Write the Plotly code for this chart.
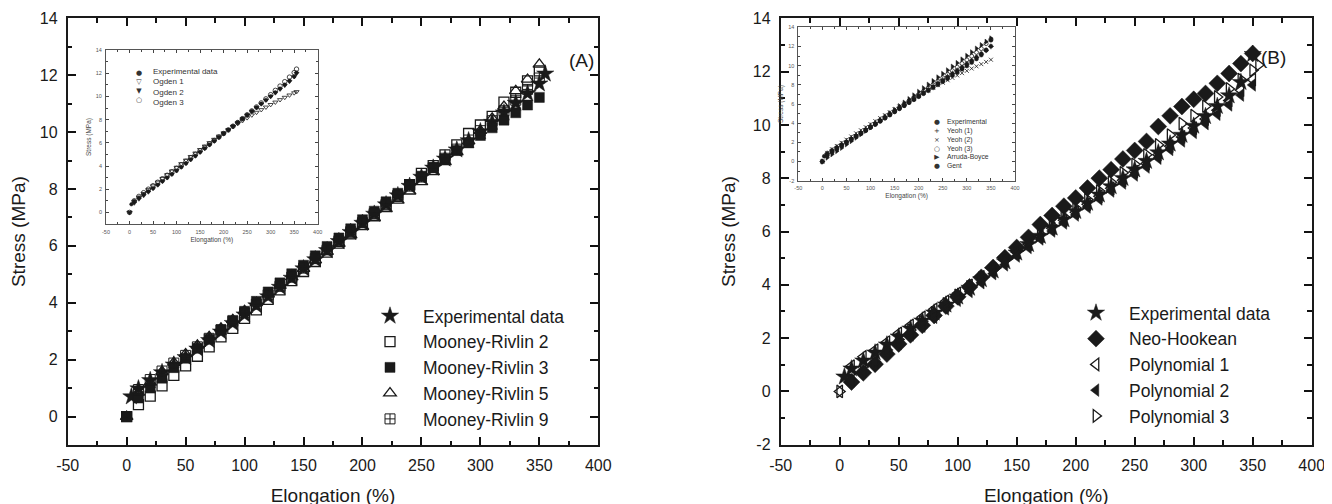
import plotly.graph_objects as go

# ---------------- DATA ----------------
EXP_A_X = [4, 10, 20, 30, 40, 50, 60, 70, 80, 90, 100, 110, 120, 130, 140, 150, 160, 170, 180, 190,
           200, 210, 220, 230, 240, 250, 260, 270, 280, 290, 300, 310, 320, 330, 340, 350, 355]
EXP_A_Y = [0.70, 0.98, 1.27, 1.55, 1.82, 2.08, 2.38, 2.68, 2.98, 3.28, 3.58, 3.90, 4.22, 4.55, 4.87,
           5.20, 5.52, 5.84, 6.16, 6.48, 6.80, 7.12, 7.45, 7.77, 8.10, 8.42, 8.74, 9.06, 9.38, 9.70,
           10.02, 10.35, 10.68, 11.02, 11.36, 11.70, 12.05]
MODEL_X = [0, 10, 20, 30, 40, 50, 60, 70, 80, 90, 100, 110, 120, 130, 140, 150, 160, 170, 180, 190,
           200, 210, 220, 230, 240, 250, 260, 270, 280, 290, 300, 310, 320, 330, 340, 350]
MR2_Y = [0, 0.42, 0.72, 1.08, 1.45, 1.78, 2.12, 2.45, 2.80, 3.10, 3.45, 3.75, 4.12, 4.45, 4.78, 5.10,
         5.45, 5.78, 6.10, 6.42, 6.75, 7.08, 7.40, 7.74, 8.15, 8.55, 8.82, 9.20, 9.55, 9.95, 10.25,
         10.55, 11.05, 11.40, 11.80, 12.15]
MR3_Y = [0, 0.65, 1.00, 1.35, 1.72, 2.05, 2.40, 2.72, 3.05, 3.38, 3.70, 4.05, 4.38, 4.70, 5.02, 5.32,
         5.65, 5.98, 6.28, 6.60, 6.92, 7.22, 7.55, 7.85, 8.15, 8.45, 8.75, 9.05, 9.35, 9.62, 9.88,
         10.15, 10.42, 10.68, 10.95, 11.22]
MR5_Y = [0, 0.85, 1.20, 1.58, 1.90, 2.20, 2.50, 2.80, 3.10, 3.40, 3.72, 4.00, 4.30, 4.60, 4.90, 5.20,
         5.50, 5.80, 6.08, 6.38, 6.68, 6.98, 7.30, 7.60, 7.92, 8.25, 8.60, 8.95, 9.30, 9.68, 10.05,
         10.48, 10.90, 11.45, 11.85, 12.38]
MR9_Y = [0, 0.95, 1.30, 1.60, 1.88, 2.15, 2.45, 2.75, 3.05, 3.35, 3.65, 3.95, 4.28, 4.58, 4.90, 5.22,
         5.55, 5.86, 6.18, 6.50, 6.82, 7.14, 7.46, 7.78, 8.10, 8.42, 8.75, 9.08, 9.40, 9.72, 10.05,
         10.40, 10.75, 11.12, 11.50, 11.90]

EXP_B_X = EXP_A_X[:-1]
EXP_B_Y = [0.55, 0.85, 1.15, 1.45, 1.75, 2.05, 2.35, 2.65, 2.95, 3.25, 3.55, 3.88, 4.20, 4.53, 4.87,
           5.20, 5.52, 5.83, 6.14, 6.45, 6.76, 7.07, 7.38, 7.69, 8.00, 8.32, 8.64, 8.96, 9.29, 9.62,
           9.96, 10.32, 10.70, 11.10, 11.60, 12.65]
NEO_X = MODEL_X[1:]
NEO_Y = [0.35, 0.70, 1.02, 1.40, 1.78, 2.12, 2.48, 2.85, 3.20, 3.55, 3.92, 4.28, 4.65, 5.02, 5.40,
         5.78, 6.26, 6.60, 6.95, 7.26, 7.63, 8.00, 8.32, 8.72, 9.04, 9.38, 9.94, 10.34, 10.69, 10.96,
         11.18, 11.56, 11.93, 12.30, 12.68]
POLY1_Y = [0, 0.95, 1.30, 1.55, 1.85, 2.18, 2.48, 2.78, 3.08, 3.38, 3.68, 3.98, 4.30, 4.60, 4.92,
           5.22, 5.52, 5.82, 6.12, 6.42, 6.72, 7.02, 7.32, 7.62, 7.92, 8.25, 8.55, 8.88, 9.20, 9.55,
           9.88, 10.22, 10.55, 10.92, 11.30, 11.70]
POLY2_X = MODEL_X[1:]
POLY2_Y = [0.40, 0.75, 1.10, 1.45, 1.80, 2.12, 2.45, 2.78, 3.10, 3.42, 3.75, 4.08, 4.42, 4.75, 5.08,
           5.40, 5.72, 6.02, 6.32, 6.62, 6.92, 7.22, 7.52, 7.82, 8.12, 8.42, 8.75, 9.08, 9.40, 9.72,
           10.05, 10.40, 10.75, 11.12, 11.50]
POLY3_X = MODEL_X + [355]
POLY3_Y = [0, 0.70, 0.95, 1.10, 1.55, 1.95, 2.30, 2.62, 2.95, 3.28, 3.60, 3.92, 4.25, 4.58, 4.92,
           5.25, 5.58, 5.90, 6.22, 6.55, 6.88, 7.20, 7.52, 7.85, 8.20, 8.52, 8.88, 9.25, 9.62, 10.05,
           10.35, 10.70, 11.05, 11.35, 11.70, 12.05, 12.25]

INSET_A_X = MODEL_X + [355]
OGDEN1_Y = [0, 0.92, 1.30, 1.62, 1.95, 2.28, 2.60, 2.92, 3.24, 3.56, 3.88, 4.19, 4.50, 4.81, 5.11,
            5.41, 5.71, 6.00, 6.29, 6.57, 6.85, 7.12, 7.39, 7.65, 7.90, 8.15, 8.39, 8.62, 8.85, 9.07,
            9.29, 9.50, 9.71, 9.91, 10.11, 10.30, 10.40]
OGDEN2_Y = [0, 0.80, 1.15, 1.45, 1.75, 2.05, 2.36, 2.67, 2.98, 3.29, 3.60, 3.91, 4.22, 4.54, 4.86,
            5.18, 5.50, 5.82, 6.14, 6.46, 6.78, 7.10, 7.42, 7.74, 8.06, 8.38, 8.70, 9.02, 9.34, 9.66,
            9.98, 10.30, 10.62, 10.95, 11.28, 11.70, 11.98]
OGDEN3_Y = [0, 1.00, 1.38, 1.70, 2.00, 2.30, 2.60, 2.90, 3.20, 3.50, 3.80, 4.10, 4.40, 4.70, 5.00,
            5.30, 5.60, 5.90, 6.20, 6.50, 6.80, 7.11, 7.43, 7.75, 8.08, 8.41, 8.75, 9.09, 9.44, 9.79,
            10.15, 10.52, 10.89, 11.27, 11.66, 12.05, 12.35]
INSET_A_NAMES = ["Experimental data", "Ogden 1", "Ogden 2", "Ogden 3"]
INSET_A_KEYS = ["\u25CF", "\u25BD", "\u25BC", "\u25CB"]

INSET_B_X = MODEL_X
YEOH1_Y = [0, 0.85, 1.20, 1.52, 1.84, 2.15, 2.47, 2.79, 3.11, 3.43, 3.75, 4.07, 4.39, 4.71, 5.03,
           5.35, 5.67, 5.99, 6.31, 6.63, 6.95, 7.27, 7.59, 7.91, 8.23, 8.55, 8.87, 9.19, 9.51, 9.83,
           10.15, 10.50, 10.85, 11.20, 11.60, 12.00]
YEOH2_Y = [0, 0.90, 1.28, 1.62, 1.95, 2.28, 2.61, 2.94, 3.26, 3.58, 3.90, 4.21, 4.52, 4.83, 5.13,
           5.43, 5.73, 6.02, 6.31, 6.60, 6.88, 7.16, 7.43, 7.70, 7.96, 8.22, 8.48, 8.73, 8.98, 9.22,
           9.46, 9.70, 9.93, 10.16, 10.39, 10.62]
YEOH3_Y = [0, 0.70, 1.05, 1.38, 1.70, 2.02, 2.34, 2.66, 2.98, 3.30, 3.62, 3.94, 4.27, 4.60, 4.93,
           5.26, 5.60, 5.94, 6.28, 6.62, 6.97, 7.32, 7.67, 8.02, 8.38, 8.74, 9.10, 9.47, 9.84, 10.22,
           10.60, 10.99, 11.38, 11.78, 12.30, 12.75]
ARRUDA_Y = [0, 0.40, 0.75, 1.08, 1.42, 1.78, 2.12, 2.48, 2.84, 3.20, 3.56, 3.92, 4.28, 4.65, 5.02,
            5.40, 5.78, 6.15, 6.52, 6.90, 7.28, 7.65, 8.02, 8.40, 8.78, 9.15, 9.52, 9.90, 10.28,
            10.65, 11.02, 11.40, 11.78, 12.15, 12.50, 12.85]
GENT_Y = [0, 0.60, 0.95, 1.28, 1.60, 1.93, 2.25, 2.58, 2.90, 3.22, 3.55, 3.87, 4.20, 4.52, 4.85,
          5.18, 5.50, 5.83, 6.16, 6.48, 6.81, 7.14, 7.47, 7.80, 8.13, 8.46, 8.80, 9.14, 9.48, 9.82,
          10.17, 10.52, 10.88, 11.25, 11.63, 12.02]
INSET_B_NAMES = ["Experimental", "Yeoh (1)", "Yeoh (2)", "Yeoh (3)", "Arruda-Boyce", "Gent"]
INSET_B_KEYS = ["\u25CF", "+", "\u00D7", "\u25CB", "\u25B6", "\u25CF"]

X_TICKS = [-50, 0, 50, 100, 150, 200, 250, 300, 350, 400]
X_TICK_TEXT = ["-50", "0", "50", "100", "150", "200", "250", "300", "350", "400"]
YA_TICKS = [0, 2, 4, 6, 8, 10, 12, 14]
YA_TICK_TEXT = ["0", "2", "4", "6", "8", "10", "12", "14"]
YB_TICKS = [-2, 0, 2, 4, 6, 8, 10, 12, 14]
YB_TICK_TEXT = ["-2", "0", "2", "4", "6", "8", "10", "12", "14"]

# ---------------- STYLE ----------------
INK = "#1a1a1a"
TICK = "#111111"
FONT = "Liberation Sans, Arial, sans-serif"
W, H = 1332, 504
OFF = 8  # default page margin of the html body

fig = go.Figure()


def add(x, y, name, symbol, size, xa, ya, legend=None, lw=1.3, show=True):
    fig.add_trace(go.Scatter(
        x=x, y=y, name=name, mode="markers", xaxis=xa, yaxis=ya,
        showlegend=show, legend=legend,
        marker=dict(symbol=symbol, size=size, color=INK, line=dict(color=INK, width=lw)),
    ))


add(EXP_A_X, EXP_A_Y, "Experimental data", "star", 13, "x", "y", "legend", 0.5)
add(MODEL_X, MR2_Y, "Mooney-Rivlin 2", "square-open", 10, "x", "y", "legend")
add(MODEL_X, MR3_Y, "Mooney-Rivlin 3", "square", 10, "x", "y", "legend", 0.5)
add(MODEL_X, MR5_Y, "Mooney-Rivlin 5", "triangle-up-open", 11, "x", "y", "legend")
add(MODEL_X, MR9_Y, "Mooney-Rivlin 9", "square-cross-open", 10, "x", "y", "legend", 1.0)

add(EXP_B_X, EXP_B_Y, "Experimental data", "star", 13, "x2", "y2", "legend2", 0.5)
add(NEO_X, NEO_Y, "Neo-Hookean", "diamond", 13, "x2", "y2", "legend2", 0.5)
add(MODEL_X, POLY1_Y, "Polynomial 1", "triangle-left-open", 11, "x2", "y2", "legend2")
add(POLY2_X, POLY2_Y, "Polynomial 2", "triangle-left", 11, "x2", "y2", "legend2", 0.5)
add(POLY3_X, POLY3_Y, "Polynomial 3", "triangle-right-open", 11, "x2", "y2", "legend2")

add(EXP_A_X, EXP_A_Y, INSET_A_NAMES[0], "circle", 3.5, "x3", "y3", show=False, lw=0.5)
add(INSET_A_X, OGDEN1_Y, INSET_A_NAMES[1], "triangle-down-open", 4.5, "x3", "y3", show=False, lw=0.8)
add(INSET_A_X, OGDEN2_Y, INSET_A_NAMES[2], "triangle-down", 4.5, "x3", "y3", show=False, lw=0.5)
add(INSET_A_X, OGDEN3_Y, INSET_A_NAMES[3], "circle-open", 4.5, "x3", "y3", show=False, lw=0.8)

add(EXP_B_X, EXP_B_Y, INSET_B_NAMES[0], "circle", 4, "x4", "y4", show=False, lw=0.5)
add(INSET_B_X, YEOH1_Y, INSET_B_NAMES[1], "cross-thin-open", 4, "x4", "y4", show=False, lw=0.8)
add(INSET_B_X, YEOH2_Y, INSET_B_NAMES[2], "x-thin-open", 4, "x4", "y4", show=False, lw=0.8)
add(INSET_B_X, YEOH3_Y, INSET_B_NAMES[3], "circle-open", 4, "x4", "y4", show=False, lw=0.8)
add(INSET_B_X, ARRUDA_Y, INSET_B_NAMES[4], "triangle-right", 4.5, "x4", "y4", show=False, lw=0.5)
add(INSET_B_X, GENT_Y, INSET_B_NAMES[5], "circle", 4, "x4", "y4", show=False, lw=0.5)


def main_axis(domain, rng, tv, tt, mdtick, title, standoff):
    return dict(
        domain=domain, range=rng, tickmode="array", tickvals=tv, ticktext=tt,
        showgrid=False, zeroline=False,
        showline=True, linewidth=1.8, linecolor=INK, mirror="ticks",
        ticks="inside", ticklen=8, tickwidth=2, tickcolor=TICK,
        minor=dict(ticks="inside", ticklen=4.5, tickwidth=1.8, tickcolor=TICK,
                   tickmode="linear", tick0=0, dtick=mdtick, showgrid=False),
        tickfont=dict(family=FONT, size=16, color=INK), ticklabelstandoff=5,
        title=dict(text=title, font=dict(family=FONT, size=19, color=INK), standoff=standoff),
        automargin=False, fixedrange=True,
    )


def inset_axis(domain, rng, tv, tt, mdtick, title, standoff):
    return dict(
        domain=domain, range=rng, tickmode="array", tickvals=tv, ticktext=tt,
        showgrid=False, zeroline=False,
        showline=True, linewidth=0.9, linecolor="#555", mirror="ticks",
        ticks="inside", ticklen=3, tickwidth=0.9, tickcolor="#444",
        minor=dict(ticks="inside", ticklen=1.8, tickwidth=0.8, tickcolor="#444",
                   tickmode="linear", tick0=0, dtick=mdtick, showgrid=False),
        tickfont=dict(family=FONT, size=5.5, color="#555"), ticklabelstandoff=2,
        title=dict(text=title, font=dict(family=FONT, size=6.5, color="#444"), standoff=standoff),
        automargin=False, fixedrange=True,
    )


def px(xp):
    return (xp - OFF) / W


def py(yp):
    return 1 - (yp - OFF) / H


fig.update_layout(
    template="none", width=W, height=H,
    margin=dict(l=0, r=0, t=0, b=0),
    paper_bgcolor="white", plot_bgcolor="white",
    font=dict(family=FONT, color=INK),
    xaxis=dict(main_axis([px(67.7), px(598.3)], [-50, 400], X_TICKS, X_TICK_TEXT, 25,
                         "Elongation (%)", 16), anchor="y"),
    yaxis=dict(main_axis([py(445), py(18.3)], [-1, 14], YA_TICKS, YA_TICK_TEXT, 1,
                         "Stress (MPa)", 12), anchor="x"),
    xaxis2=dict(main_axis([px(780.7), px(1311.7)], [-50, 400], X_TICKS, X_TICK_TEXT, 25,
                          "Elongation (%)", 16), anchor="y2"),
    yaxis2=dict(main_axis([py(444.7), py(18.3)], [-2, 14], YB_TICKS, YB_TICK_TEXT, 1,
                          "Stress (MPa)", 12), anchor="x2"),
    xaxis3=dict(inset_axis([px(106), px(317.7)], [-50, 400], X_TICKS, X_TICK_TEXT, 25,
                           "Elongation (%)", 3), anchor="y3"),
    yaxis3=dict(inset_axis([py(224), py(50)], [-1, 14], YA_TICKS, YA_TICK_TEXT, 1,
                           "Stress (MPa)", 3), anchor="x3"),
    xaxis4=dict(inset_axis([px(798.3), px(1015)], [-50, 400], X_TICKS, X_TICK_TEXT, 25,
                           "Elongation (%)", 3), anchor="y4"),
    yaxis4=dict(inset_axis([py(180.7), py(27.3)], [-2, 14], YB_TICKS, YB_TICK_TEXT, 1,
                           "Stress (MPa)", 3), anchor="x4"),
    legend=dict(x=px(357), y=py(298), xanchor="left", yanchor="top", itemwidth=56,
                font=dict(family=FONT, size=17.5, color=INK), bgcolor="rgba(0,0,0,0)",
                tracegroupgap=0, itemclick=False, itemdoubleclick=False),
    legend2=dict(x=px(1063), y=py(295), xanchor="left", yanchor="top", itemwidth=56,
                 font=dict(family=FONT, size=17.5, color=INK), bgcolor="rgba(0,0,0,0)",
                 tracegroupgap=0, itemclick=False, itemdoubleclick=False),
)

annotations = [
    dict(text="(A)", x=px(581.6), y=py(48), xref="paper", yref="paper", showarrow=False,
         font=dict(family=FONT, size=19, color=INK)),
    dict(text="(B)", x=px(1288), y=py(45), xref="paper", yref="paper", showarrow=False,
         font=dict(family=FONT, size=19, color=INK)),
    dict(text="<br>".join(INSET_A_KEYS), x=px(139), y=py(86.7), xref="paper", yref="paper",
         showarrow=False, align="center", xanchor="center", yanchor="middle",
         font=dict(family="DejaVu Sans", size=7, color="#333")),
    dict(text="<br>".join(INSET_A_NAMES), x=px(151), y=py(86.7), xref="paper", yref="paper",
         showarrow=False, align="left", xanchor="left", yanchor="middle",
         font=dict(family=FONT, size=8, color="#333")),
    dict(text="<br>".join(INSET_B_KEYS), x=px(937), y=py(143.7), xref="paper", yref="paper",
         showarrow=False, align="center", xanchor="center", yanchor="middle",
         font=dict(family="DejaVu Sans", size=6.8, color="#333")),
    dict(text="<br>".join(INSET_B_NAMES), x=px(945), y=py(143.7), xref="paper", yref="paper",
         showarrow=False, align="left", xanchor="left", yanchor="middle",
         font=dict(family=FONT, size=6.8, color="#333")),
]
fig.update_layout(annotations=annotations)

fig.write_html("out.html")
